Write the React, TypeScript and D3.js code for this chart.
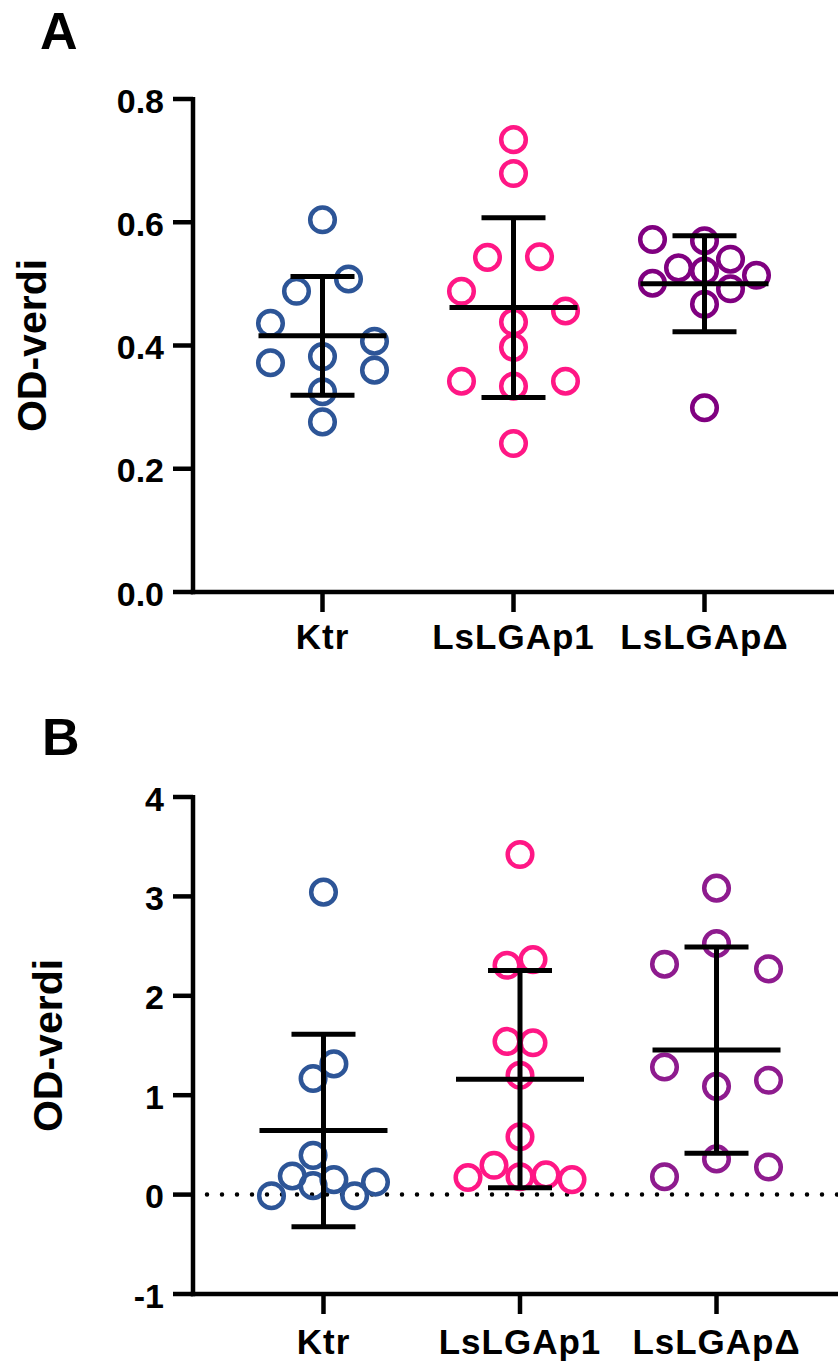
import React from 'react';
import * as d3 from 'd3';

const categories = ['Ktr', 'LsLGAp1', 'LsLGApΔ'];
const yTicksA = [0, 0.2, 0.4, 0.6, 0.8];
const yTicksB = [-1, 0, 1, 2, 3, 4];

// Panel A values (OD-verdi) and swarm lane index for each point
const ktrA = [0.604, 0.508, 0.488, 0.436, 0.407, 0.382, 0.372, 0.36, 0.325, 0.276];
const ktrALanes = [0, 1, -1, -2, 2, 0, -2, 2, 0, 0];
const lgap1A = [0.734, 0.679, 0.544, 0.543, 0.488, 0.456, 0.438, 0.397, 0.342, 0.342, 0.334, 0.241];
const lgap1ALanes = [0, 0, 1, -1, -2, 2, 0, 0, -2, 2, 0, 0];
const lgapDA = [0.572, 0.57, 0.54, 0.526, 0.521, 0.514, 0.501, 0.492, 0.467, 0.299];
const lgapDALanes = [-2, 0, 1, -1, 0, 2, -2, 1, 0, 0];

// Panel B values
const ktrB = [3.043, 1.315, 1.168, 0.395, 0.187, 0.151, 0.09, 0.126, -0.011, -0.011];
const ktrBLanes = [0, 0.4, -0.4, -0.4, -1.2, 0.4, -0.4, 2, -2, 1.2];
const lgap1B = [3.421, 2.364, 2.307, 1.541, 1.527, 1.2, 0.582, 0.295, 0.172, 0.18, 0.198, 0.151];
const lgap1BLanes = [0, 0.5, -0.5, -0.5, 0.5, 0, 0, -1, -2, 0, 1, 2];
const lgapDB = [3.083, 2.526, 2.318, 2.271, 1.283, 1.15, 1.089, 0.359, 0.277, 0.18];
const lgapDBLanes = [0, 0, -2, 2, -2, 2, 0, 0, 2, -2];

const colorsA = ['#2D5597', '#FF1785', '#800080'];
const colorsB = ['#2D5597', '#FF1785', '#8E1B8E'];

const FONT = '"Liberation Sans", Arial, Helvetica, sans-serif';

type PanelProps = {
  letter: string;
  letterX: number;
  letterY: number;
  groups: number[][];
  lanes: number[][];
  colors: string[];
  yDomain: [number, number];
  yRange: [number, number];
  xRange: [number, number];
  xPadding: number;
  ticks: number[];
  fmt: (v: number) => string;
  titleX: number;
  labelBaseline: number;
  zeroLine?: boolean;
};

function Panel(p: PanelProps) {
  const axisX = 193;
  const y = d3.scaleLinear().domain(p.yDomain).range(p.yRange);
  const x = d3.scalePoint<string>().domain(categories).range(p.xRange).padding(p.xPadding);
  const lane = d3.scaleLinear().domain([-2, 2]).range([-52, 52]);
  const bottom = p.yRange[0];
  const top = p.yRange[1];
  const titleY = (top + bottom) / 2;
  return (
    <g>
      <text x={p.letterX} y={p.letterY} fontFamily={FONT} fontWeight="bold" fontSize={52}>
        {p.letter}
      </text>
      <text
        transform={`translate(${p.titleX},${titleY}) rotate(-90)`}
        textAnchor="middle"
        fontFamily={FONT}
        fontWeight="bold"
        fontSize={41}
      >
        OD-verdi
      </text>
      {p.zeroLine && (
        <line
          x1={207}
          x2={838}
          y1={y(0)}
          y2={y(0)}
          stroke="#000"
          strokeWidth={4.5}
          strokeDasharray="0 15"
          strokeLinecap="round"
        />
      )}
      {/* points */}
      {p.groups.map((vals, gi) =>
        vals.map((v, i) => (
          <circle
            key={`${gi}-${i}`}
            cx={(x(categories[gi]) as number) + lane(p.lanes[gi][i])}
            cy={y(v)}
            r={12.3}
            fill="none"
            stroke={p.colors[gi]}
            strokeWidth={4.5}
          />
        ))
      )}
      {/* mean ± SD */}
      {p.groups.map((vals, gi) => {
        const m = d3.mean(vals) as number;
        const sd = d3.deviation(vals) as number;
        const cx = x(categories[gi]) as number;
        return (
          <g key={`e${gi}`} stroke="#000" strokeWidth={5}>
            <line x1={cx} x2={cx} y1={y(m - sd)} y2={y(m + sd)} />
            <line x1={cx - 32} x2={cx + 32} y1={y(m + sd)} y2={y(m + sd)} />
            <line x1={cx - 32} x2={cx + 32} y1={y(m - sd)} y2={y(m - sd)} />
            <line x1={cx - 64} x2={cx + 64} y1={y(m)} y2={y(m)} />
          </g>
        );
      })}
      {/* axes */}
      <line x1={axisX} x2={axisX} y1={top - 2} y2={bottom + 2.25} stroke="#000" strokeWidth={4.5} />
      <line x1={axisX - 2.25} x2={p.xRange[1]} y1={bottom} y2={bottom} stroke="#000" strokeWidth={4.5} />
      {p.ticks.map((t) => (
        <g key={`t${t}`}>
          <line x1={axisX - 20} x2={axisX} y1={y(t)} y2={y(t)} stroke="#000" strokeWidth={4.5} />
          <text
            x={164}
            y={y(t) + 13.5}
            textAnchor="end"
            fontFamily={FONT}
            fontWeight="bold"
            fontSize={34}
          >
            {p.fmt(t)}
          </text>
        </g>
      ))}
      {categories.map((c) => (
        <g key={c}>
          <line x1={x(c)} x2={x(c)} y1={bottom} y2={bottom + 20} stroke="#000" strokeWidth={4.5} />
          <text
            x={x(c)}
            y={p.labelBaseline}
            textAnchor="middle"
            fontFamily={FONT}
            fontWeight="bold"
            fontSize={35}
            letterSpacing={1}
          >
            {c}
          </text>
        </g>
      ))}
    </g>
  );
}

export default function App() {
  return (
    <svg
      width={838}
      height={1362}
      style={{ position: 'absolute', left: 0, top: 0, background: '#fff' }}
    >
      <rect width={838} height={1362} fill="#fff" />
      <Panel
        letter="A"
        letterX={40}
        letterY={49}
        groups={[ktrA, lgap1A, lgapDA]}
        lanes={[ktrALanes, lgap1ALanes, lgapDALanes]}
        colors={colorsA}
        yDomain={[0, 0.8]}
        yRange={[592, 99]}
        xRange={[193, 834]}
        xPadding={0.678}
        ticks={yTicksA}
        fmt={d3.format('.1f')}
        titleX={46}
        labelBaseline={649}
      />
      <Panel
        letter="B"
        letterX={42}
        letterY={755}
        groups={[ktrB, lgap1B, lgapDB]}
        lanes={[ktrBLanes, lgap1BLanes, lgapDBLanes]}
        colors={colorsB}
        yDomain={[-1, 4]}
        yRange={[1294, 797]}
        xRange={[193, 847]}
        xPadding={0.664}
        ticks={yTicksB}
        fmt={(v) => String(v)}
        titleX={62}
        labelBaseline={1354}
        zeroLine
      />
    </svg>
  );
}
